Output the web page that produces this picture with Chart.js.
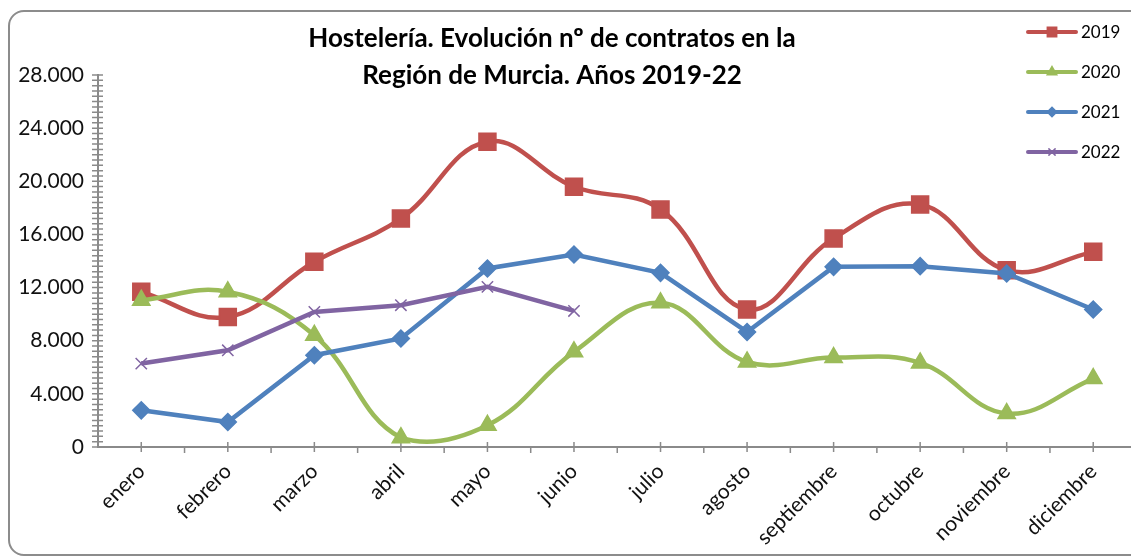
<!DOCTYPE html>
<html>
<head>
<meta charset="utf-8">
<script src="https://cdn.jsdelivr.net/npm/chart.js@4.4.0/dist/chart.umd.min.js"></script>
<style>
  html, body { margin: 0; padding: 0; background: #fff; overflow: hidden; }
  #frame { position: absolute; left: 8px; top: 10px; width: 1200px; height: 546px; border: 2px solid #8c8c8c; border-radius: 16px; box-sizing: border-box; }
  #wrap { position: absolute; left: 0; top: 0; width: 1150px; height: 557px; }
</style>
</head>
<body>
<div id="frame"></div>
<div id="wrap"><canvas id="contratosChart"></canvas></div>
<script>
const months = ['enero', 'febrero', 'marzo', 'abril', 'mayo', 'junio', 'julio', 'agosto', 'septiembre', 'octubre', 'noviembre', 'diciembre'];
const years = ['2019', '2020', '2021', '2022'];
const contratos2019 = [11680, 9790, 13940, 17200, 22980, 19590, 17880, 10350, 15700, 18260, 13310, 14690];
const contratos2020 = [11050, 11680, 8410, 700, 1630, 7160, 10850, 6400, 6730, 6330, 2520, 5150];
const contratos2021 = [2760, 1880, 6910, 8170, 13440, 14490, 13110, 8660, 13560, 13610, 13060, 10350];
const contratos2022 = [6280, 7280, 10170, 10670, 12050, 10240];
const yTickValues = [0, 4000, 8000, 12000, 16000, 20000, 24000, 28000];
const titleLines = ['Hostelería. Evolución nº de contratos en la', 'Región de Murcia. Años 2019-22'];

const colors = ['#c0504d', '#9bbb59', '#4f81bd', '#8064a2'];
const markers = ['rect', 'triangle', 'rectRot', 'crossRot'];
const markerSizes = [12, 10, 8.5, 8];
const axisColor = '#8a8a8a';
const minorStep = 400;

const fmt = v => v.toString().replace(/\B(?=(\d{3})+(?!\d))/g, '.');

// excel-like tick marks: cross ticks on y and on category centres, outside ticks on boundaries
const axisTicks = {
  id: 'axisTicks',
  beforeDatasetsDraw(chart) {
    const { ctx, scales: { x, y } } = chart;
    const x0 = x.left, y0 = y.bottom;
    const half = (x.getPixelForValue(1) - x.getPixelForValue(0)) / 2;
    ctx.save();
    ctx.strokeStyle = axisColor;
    ctx.lineWidth = 1.5;
    ctx.beginPath();
    for (let v = y.min; v <= y.max; v += minorStep) {
      const py = y.getPixelForValue(v);
      ctx.moveTo(x0 - 6, py);
      ctx.lineTo(x0 + 5, py);
    }
    months.forEach((m, i) => {
      const px = x.getPixelForValue(i);
      ctx.moveTo(px, y0 - 5);
      ctx.lineTo(px, y0 + 5);
      ctx.moveTo(px + half, y0);
      ctx.lineTo(px + half, y0 + 6);
    });
    ctx.stroke();
    ctx.restore();
  }
};

const titleAndLegend = {
  id: 'titleAndLegend',
  afterDraw(chart) {
    const ctx = chart.ctx;
    ctx.save();
    ctx.fillStyle = '#000';
    ctx.textAlign = 'center';
    ctx.textBaseline = 'alphabetic';
    ctx.font = 'bold 26px Lato';
    ctx.fillText(titleLines[0], 552, 47);
    ctx.fillText(titleLines[1], 552, 84);

    ctx.font = '17px Lato';
    ctx.textAlign = 'left';
    ctx.textBaseline = 'middle';
    years.forEach((yr, i) => {
      const ly = 32 + i * 40;
      ctx.strokeStyle = colors[i];
      ctx.lineWidth = 4;
      ctx.lineCap = 'round';
      ctx.beginPath();
      ctx.moveTo(1028, ly);
      ctx.lineTo(1076, ly);
      ctx.stroke();
      ctx.fillStyle = colors[i];
      ctx.lineWidth = 1.5;
      Chart.helpers.drawPoint(ctx, { pointStyle: markers[i], radius: markerSizes[i] * 0.55, rotation: 0, borderWidth: 1.5 }, 1052, ly);
      ctx.fillStyle = '#000';
      ctx.fillText(yr, 1081, ly + 1);
    });
    ctx.restore();
  }
};

const series = [contratos2019, contratos2020, contratos2021, contratos2022];
const smooth = [0.4, 0.4, 0, 0];

new Chart(document.getElementById('contratosChart').getContext('2d'), {
  type: 'line',
  data: {
    labels: months,
    datasets: series.map((data, i) => ({
      label: years[i],
      data: data,
      borderColor: colors[i],
      backgroundColor: colors[i],
      borderWidth: 4.5,
      pointStyle: markers[i],
      pointRadius: markerSizes[i],
      pointBorderWidth: 1.5,
      pointBackgroundColor: colors[i],
      pointBorderColor: colors[i],
      tension: smooth[i],
      order: years.length - i,
      fill: false
    }))
  },
  options: {
    responsive: true,
    maintainAspectRatio: false,
    animation: false,
    layout: { padding: { top: 75, right: 11, bottom: 0, left: 0 } },
    plugins: { legend: { display: false }, title: { display: false }, tooltip: { enabled: false } },
    scales: {
      x: {
        offset: true,
        grid: { display: false, drawTicks: false },
        border: { color: axisColor, width: 2 },
        ticks: { autoSkip: false, minRotation: 45, maxRotation: 45, padding: 12, color: '#111', font: { family: 'Lato', size: 21 } },
        afterFit: s => { s.height = 110; }
      },
      y: {
        min: 0,
        max: 28000,
        grid: { display: false, drawTicks: false },
        border: { color: axisColor, width: 2 },
        afterBuildTicks: s => { s.ticks = yTickValues.map(v => ({ value: v })); },
        ticks: { padding: 14, color: '#111', font: { family: 'Lato', size: 21 }, callback: v => fmt(v) },
        afterFit: s => { s.width = 98; }
      }
    }
  },
  plugins: [axisTicks, titleAndLegend]
});
</script>
</body>
</html>
